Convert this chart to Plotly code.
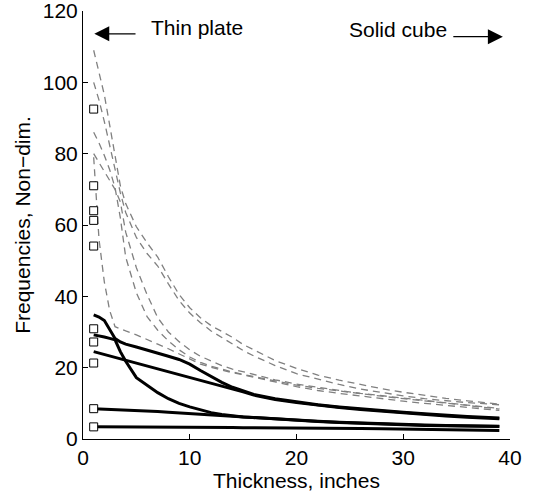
import plotly.graph_objects as go

# Plate thickness samples (inches)
thickness = [1, 1.5, 2, 2.5, 3, 3.5, 4, 5, 6, 7, 8, 9, 10, 11, 12, 13, 14, 15,
             16, 18, 20, 22, 24, 26, 28, 30, 32, 34, 36, 39]

# Lowest five modes (solid curves), non-dimensional frequency
mode_1 = [3.4, 3.4, 3.4, 3.4, 3.4, 3.4, 3.4, 3.35, 3.35, 3.3, 3.3, 3.3, 3.25, 3.25, 3.2,
          3.2, 3.2, 3.15, 3.15, 3.1, 3.1, 3.05, 3.0, 2.95, 2.9, 2.8, 2.7, 2.6, 2.5, 2.4]
mode_2 = [8.5, 8.45, 8.4, 8.35, 8.3, 8.25, 8.2, 8.0, 7.85, 7.7, 7.5, 7.3, 7.1, 6.9, 6.7,
          6.5, 6.3, 6.1, 5.9, 5.55, 5.2, 4.9, 4.6, 4.35, 4.15, 3.95, 3.8, 3.7, 3.6, 3.5]
mode_3 = [29.2, 29.0, 28.6, 28.2, 27.8, 24.5, 21.8, 17.2, 15.0, 13.0, 11.3, 10.0, 9.0, 8.1,
          7.4, 6.9, 6.5, 6.2, 6.0, 5.6, 5.3, 5.0, 4.7, 4.45, 4.25, 4.05, 3.9, 3.8, 3.7, 3.6]
mode_4 = [24.5, 24.1, 23.7, 23.3, 22.9, 22.5, 22.1, 21.3, 20.5, 19.7, 18.9, 18.1, 17.3,
          16.5, 15.7, 14.9, 14.2, 13.2, 12.3, 11.1, 10.2, 9.4, 8.8, 8.25, 7.75, 7.3, 6.85,
          6.45, 6.1, 5.65]
mode_5 = [34.8, 34.2, 33.2, 30.5, 28.2, 27.2, 26.6, 25.8, 25.0, 24.2, 23.2, 22.3, 21.0,
          19.2, 17.5, 15.9, 14.5, 13.4, 12.5, 11.3, 10.4, 9.6, 9.0, 8.45, 7.95, 7.5, 7.05,
          6.65, 6.3, 5.9]

# Higher modes (dashed curves)
mode_6 = [79, 56, 44, 36, 31.5, 30.8, 30.3, 29.2, 28.0, 26.6, 25.3, 23.8, 22.3, 21.0,
          20.1, 19.3, 18.6, 18.0, 17.4, 16.0, 14.7, 13.6, 12.8, 12.0, 11.3, 10.6, 10.0,
          9.4, 8.8, 8.0]
mode_7 = [80, 77.5, 75, 72.5, 70, 66.5, 58, 48, 40.5, 34, 30, 27.3, 25.0, 23.2, 21.8,
          20.6, 19.6, 18.8, 18.0, 16.6, 15.4, 14.4, 13.6, 12.8, 12.1, 11.4, 10.7, 10.1,
          9.5, 8.6]
mode_8 = [86, 83, 79.5, 75.5, 70.5, 62, 51, 41, 34.3, 30.5, 27.5, 25.0, 23.0, 21.5, 20.4,
          19.5, 18.8, 18.1, 17.5, 16.3, 15.1, 14.2, 13.4, 12.7, 12.0, 11.3, 10.6, 10.0,
          9.4, 8.4]
mode_9 = [100, 95, 89, 82, 75, 69, 63.5, 56.5, 52, 48.5, 43.5, 38.8, 35.3, 32.6, 30.3,
          28.5, 26.5, 24.8, 23.3, 20.6, 18.3, 16.7, 15.3, 14.0, 13.0, 12.1, 11.3, 10.7,
          10.2, 9.6]
mode_10 = [109, 103, 96.5, 88, 79, 71, 66, 59.5, 55, 51, 45.5, 40.5, 36.8, 34.0, 31.8,
           30.2, 28.5, 26.5, 25.0, 22.0, 19.8, 17.9, 16.5, 15.2, 14.1, 13.1, 12.2, 11.4,
           10.7, 9.8]

# Thin-plate reference frequencies at 1 inch
plate_thickness = [1] * 10
plate_freq = [3.4, 8.5, 21.3, 27.2, 30.9, 54.1, 61.3, 64.0, 71.0, 92.5]

solid_modes = [mode_1, mode_2, mode_3, mode_4, mode_5]
dashed_modes = [mode_6, mode_7, mode_8, mode_9, mode_10]

FONT = "Arial, Liberation Sans, sans-serif"

fig = go.Figure()

for m in dashed_modes:
    fig.add_trace(go.Scatter(
        x=thickness, y=m, mode="lines",
        line=dict(color="rgb(128,128,128)", width=1.3, dash="7px,5px"),
        hoverinfo="skip"))

for m in solid_modes:
    fig.add_trace(go.Scatter(
        x=thickness, y=m, mode="lines",
        line=dict(color="black", width=3),
        hoverinfo="skip"))

fig.add_trace(go.Scatter(
    x=plate_thickness, y=plate_freq, mode="markers",
    marker=dict(symbol="square", size=8, color="white",
                line=dict(color="black", width=1)),
    hoverinfo="skip"))

# Direction labels with arrows
fig.add_annotation(x=1.06, y=113.6, ax=5.06, ay=113.6, xref="x", yref="y",
                   axref="x", ayref="y", text="", showarrow=True,
                   arrowhead=2, arrowsize=2.3, arrowwidth=1.3, arrowcolor="black",
                   standoff=0)
fig.add_annotation(x=6.14, y=115.5, xref="x", yref="y", text="Thin plate",
                   showarrow=False, xanchor="left", yanchor="middle",
                   font=dict(family=FONT, size=21, color="black"))
fig.add_annotation(x=39.33, y=112.8, ax=34.55, ay=112.8, xref="x", yref="y",
                   axref="x", ayref="y", text="", showarrow=True,
                   arrowhead=2, arrowsize=2.3, arrowwidth=1.3, arrowcolor="black",
                   standoff=0)
fig.add_annotation(x=24.72, y=114.8, xref="x", yref="y", text="Solid cube",
                   showarrow=False, xanchor="left", yanchor="middle",
                   font=dict(family=FONT, size=21, color="black"))

axis_common = dict(
    showgrid=False, zeroline=False, showline=True, linecolor="black", linewidth=1,
    ticks="inside", ticklen=5, tickwidth=1, tickcolor="black",
    tickfont=dict(family=FONT, size=21, color="black"),
    ticklabeloverflow="allow",
)

fig.update_xaxes(range=[0, 40], dtick=10, tick0=0,
                 title=dict(text="Thickness, inches",
                            font=dict(family=FONT, size=21, color="black"),
                            standoff=1),
                 **axis_common)
fig.update_yaxes(range=[0, 120], dtick=20, tick0=0,
                 title=dict(text="Frequencies, Non\u2212dim.",
                            font=dict(family=FONT, size=21, color="black"),
                            standoff=6),
                 **axis_common)

fig.update_layout(
    width=537, height=493,
    margin=dict(l=83, r=27, t=11, b=54, autoexpand=False),
    paper_bgcolor="white", plot_bgcolor="white",
    showlegend=False,
    font=dict(family=FONT, size=21, color="black"),
)

fig.write_html("out.html")
